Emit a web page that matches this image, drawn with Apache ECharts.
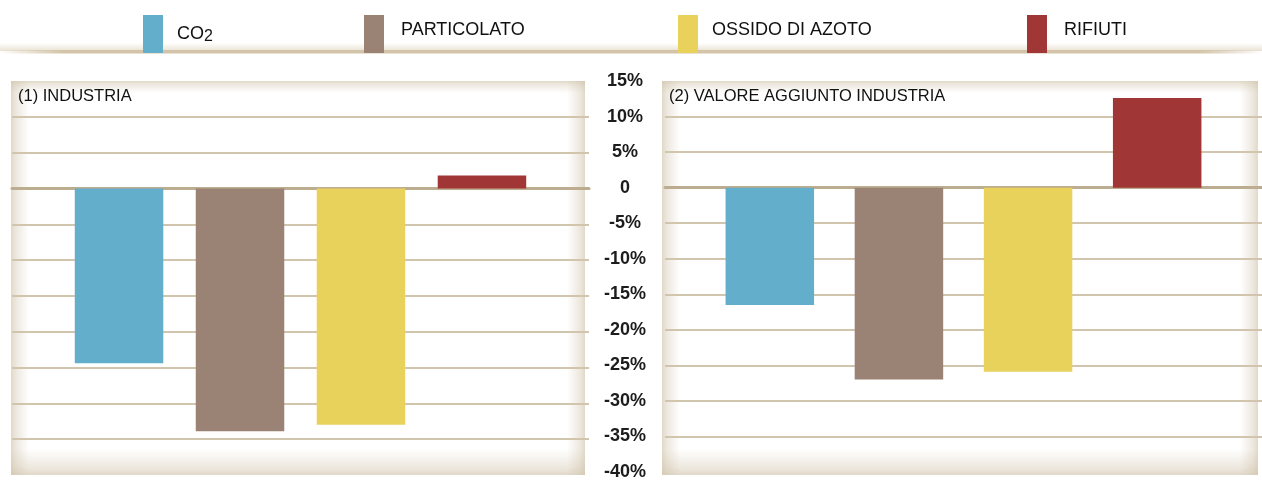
<!DOCTYPE html>
<html>
<head>
<meta charset="utf-8">
<script src="https://cdn.jsdelivr.net/npm/echarts@6/dist/echarts.min.js"></script>
<style>
  html, body { margin: 0; padding: 0; background: #fff; }
  #chart { width: 1262px; height: 481px; }
</style>
</head>
<body>
<div id="chart"></div>
<script>
// dati
const pollutants = ['CO2', 'PARTICOLATO', 'OSSIDO DI AZOTO', 'RIFIUTI'];
const colors = ['#62aecb', '#9a8375', '#e9d25c', '#a13636'];
const panelTitles = ['(1) INDUSTRIA', '(2) VALORE AGGIUNTO INDUSTRIA'];
const industria = [-24.4, -33.9, -33.0, 1.8];
const valoreAggiunto = [-16.5, -27.0, -25.9, 12.6];
const yMin = -40;
const yMax = 15;
const yStep = 5;

const chart = echarts.init(document.getElementById('chart'));

// pannelli (sfondo con bordo sfumato)
const panels = [
  { x: 11, y: 81, w: 574, h: 394 },
  { x: 662, y: 81, w: 596, h: 394 }
];
const edge = 'rgba(205,191,165,0.6)';
const clear = 'rgba(205,191,165,0)';
function grad(x, y, x2, y2) {
  return new echarts.graphic.LinearGradient(x, y, x2, y2, [
    { offset: 0, color: edge }, { offset: 0.3, color: 'rgba(205,191,165,0.35)' }, { offset: 1, color: clear }
  ]);
}
const graphics = [];
panels.forEach((p, i) => {
  graphics.push({ type: 'rect', z: -10, shape: { x: p.x, y: p.y, width: p.w, height: p.h }, style: { fill: '#fff' } });
  graphics.push({ type: 'rect', z: -9, shape: { x: p.x, y: p.y, width: 18, height: p.h }, style: { fill: grad(0, 0, 1, 0) } });
  graphics.push({ type: 'rect', z: -9, shape: { x: p.x + p.w - 18, y: p.y, width: 18, height: p.h }, style: { fill: grad(1, 0, 0, 0) } });
  graphics.push({ type: 'rect', z: -9, shape: { x: p.x, y: p.y, width: p.w, height: 12 }, style: { fill: grad(0, 0, 0, 1) } });
  graphics.push({ type: 'rect', z: -9, shape: { x: p.x, y: p.y + p.h - 26, width: p.w, height: 26 }, style: { fill: grad(0, 1, 0, 0) } });
  graphics.push({
    type: 'text', z: 10, x: p.x + 7, y: 96,
    style: { text: panelTitles[i], fill: '#111', font: '16.5px "Liberation Sans"', verticalAlign: 'middle' }
  });
});
// linea sotto la legenda
graphics.push({
  type: 'rect', z: -10, shape: { x: 0, y: 43, width: 1262, height: 8 },
  style: { fill: new echarts.graphic.LinearGradient(0, 0, 0, 1, [
    { offset: 0, color: 'rgba(225,214,192,0)' }, { offset: 1, color: 'rgba(225,214,192,0.7)' }
  ]) }
});
graphics.push({
  type: 'rect', z: -10, shape: { x: 0, y: 50, width: 1262, height: 3.5 },
  style: { fill: new echarts.graphic.LinearGradient(0, 0, 1, 0, [
    { offset: 0, color: 'rgba(205,190,163,0)' }, { offset: 0.05, color: '#d3c4a9' },
    { offset: 0.95, color: '#d3c4a9' }, { offset: 1, color: 'rgba(205,190,163,0)' }
  ]) }
});

const legendLeft = [143, 364, 678, 1027];
const legends = pollutants.map((name, i) => ({
  left: legendLeft[i],
  top: 15,
  padding: 0,
  icon: 'rect',
  itemWidth: 20,
  itemHeight: 38,
  selectedMode: false,
  data: [name],
  formatter: n => n === 'CO2' ? '{a|CO}{s|2}' : n,
  textStyle: {
    fontSize: 18,
    color: '#111',
    padding: [0, 0, 7, i === 1 || i === 3 ? 12 : 9],
    rich: {
      a: { fontSize: 18, color: '#111', padding: [7, 0, 0, 0] },
      s: { fontSize: 16, color: '#111', padding: [12, 0, 0, 0] }
    }
  }
}));

const gridLine = { show: true, showMinLine: false, showMaxLine: false, lineStyle: { color: '#d2c5ae', width: 2 } };

function yAxis(gridIndex, showLabels) {
  return {
    type: 'value',
    gridIndex: gridIndex,
    min: yMin,
    max: yMax,
    interval: yStep,
    position: 'left',
    axisLine: { show: false },
    axisTick: { show: false },
    splitLine: gridLine,
    axisLabel: {
      show: showLabels,
      margin: 40,
      align: 'center',
      fontSize: 18,
      fontWeight: 'bold',
      color: '#1c1c1c',
      formatter: v => v === 0 ? '0' : v + '%'
    }
  };
}

function xAxis(gridIndex, label) {
  return {
    type: 'category',
    gridIndex: gridIndex,
    data: [label],
    axisLine: { show: true, onZero: true, lineStyle: { color: '#bcad91', width: 3 } },
    axisTick: { show: false },
    axisLabel: { show: false },
    splitLine: { show: false }
  };
}

const series = [];
[industria, valoreAggiunto].forEach((values, p) => {
  values.forEach((v, i) => {
    series.push({
      type: 'bar',
      name: pollutants[i],
      xAxisIndex: p,
      yAxisIndex: p,
      data: [v],
      barWidth: 88.5,
      barGap: p === 0 ? '36.7%' : '45.9%',
      itemStyle: { color: colors[i] },
      emphasis: { disabled: true }
    });
  });
});

chart.setOption({
  animation: false,
  color: colors,
  textStyle: { fontFamily: 'Liberation Sans' },
  graphic: graphics,
  legend: legends,
  grid: [
    { left: 12, top: 81, width: 577, height: 394 },
    { left: 665, top: 81, width: 597, height: 394 }
  ],
  xAxis: [xAxis(0, panelTitles[0]), xAxis(1, panelTitles[1])],
  yAxis: [yAxis(0, false), yAxis(1, true)],
  series: series
});
</script>
</body>
</html>
